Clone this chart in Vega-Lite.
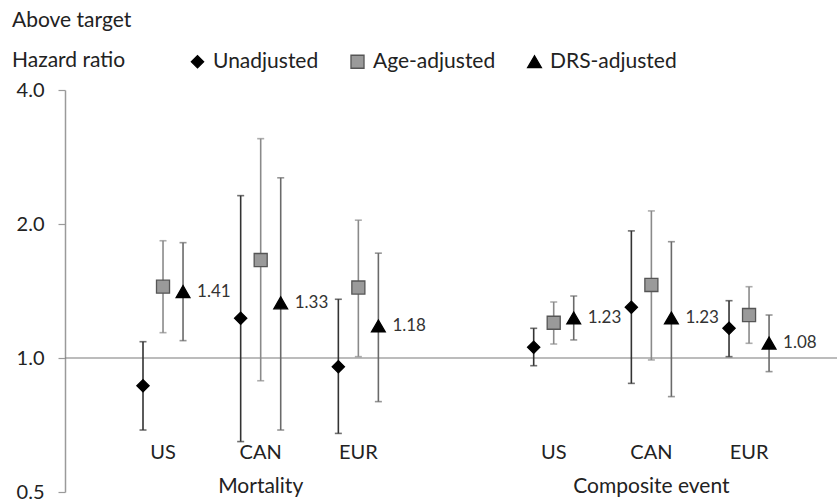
{
  "$schema": "https://vega.github.io/schema/vega-lite/v6.json",
  "width": 772,
  "height": 402,
  "autosize": "none",
  "padding": {"left": 65, "top": 90, "right": 0, "bottom": 9},
  "background": "white",
  "config": {
    "font": "Lato",
    "view": {"stroke": null}
  },
  "title": {
    "text": ["Above target", "Hazard ratio"],
    "anchor": "start",
    "frame": "group",
    "dx": -53,
    "dy": 24,
    "fontSize": 21,
    "fontWeight": "normal",
    "color": "#222",
    "lineHeight": 40,
    "font": "Lato"
  },
  "datasets": {
    "pts": [
      {"cat": "M-US", "series": "Unadjusted", "hr": 0.866, "lo": 0.689, "hi": 1.088, "label": ""},
      {"cat": "M-US", "series": "Age-adjusted", "hr": 1.446, "lo": 1.14, "hi": 1.834, "label": ""},
      {"cat": "M-US", "series": "DRS-adjusted", "hr": 1.41, "lo": 1.094, "hi": 1.816, "label": "1.41"},
      {"cat": "M-CAN", "series": "Unadjusted", "hr": 1.228, "lo": 0.649, "hi": 2.316, "label": ""},
      {"cat": "M-CAN", "series": "Age-adjusted", "hr": 1.66, "lo": 0.889, "hi": 3.11, "label": ""},
      {"cat": "M-CAN", "series": "DRS-adjusted", "hr": 1.33, "lo": 0.689, "hi": 2.54, "label": "1.33"},
      {"cat": "M-EUR", "series": "Unadjusted", "hr": 0.956, "lo": 0.677, "hi": 1.355, "label": ""},
      {"cat": "M-EUR", "series": "Age-adjusted", "hr": 1.44, "lo": 1.007, "hi": 2.04, "label": ""},
      {"cat": "M-EUR", "series": "DRS-adjusted", "hr": 1.18, "lo": 0.798, "hi": 1.72, "label": "1.18"},
      {"cat": "C-US", "series": "Unadjusted", "hr": 1.057, "lo": 0.961, "hi": 1.166, "label": ""},
      {"cat": "C-US", "series": "Age-adjusted", "hr": 1.2, "lo": 1.075, "hi": 1.336, "label": ""},
      {"cat": "C-US", "series": "DRS-adjusted", "hr": 1.23, "lo": 1.098, "hi": 1.378, "label": "1.23"},
      {"cat": "C-CAN", "series": "Unadjusted", "hr": 1.3, "lo": 0.877, "hi": 1.93, "label": ""},
      {"cat": "C-CAN", "series": "Age-adjusted", "hr": 1.459, "lo": 0.99, "hi": 2.14, "label": ""},
      {"cat": "C-CAN", "series": "DRS-adjusted", "hr": 1.23, "lo": 0.819, "hi": 1.825, "label": "1.23"},
      {"cat": "C-EUR", "series": "Unadjusted", "hr": 1.166, "lo": 1.007, "hi": 1.345, "label": ""},
      {"cat": "C-EUR", "series": "Age-adjusted", "hr": 1.249, "lo": 1.079, "hi": 1.446, "label": ""},
      {"cat": "C-EUR", "series": "DRS-adjusted", "hr": 1.08, "lo": 0.932, "hi": 1.249, "label": "1.08"}
    ],
    "cats": [
      {"cat": "M-US", "region": "US", "group": "", "ry": 0.612, "gy": 0.513},
      {"cat": "M-CAN", "region": "CAN", "group": "Mortality", "ry": 0.612, "gy": 0.513},
      {"cat": "M-EUR", "region": "EUR", "group": "", "ry": 0.612, "gy": 0.513},
      {"cat": "C-US", "region": "US", "group": "", "ry": 0.612, "gy": 0.513},
      {"cat": "C-CAN", "region": "CAN", "group": "Composite event", "ry": 0.612, "gy": 0.513},
      {"cat": "C-EUR", "region": "EUR", "group": "", "ry": 0.612, "gy": 0.513}
    ],
    "ref": [{"v": 1}]
  },
  "resolve": {"legend": {"color": "independent"}},
  "layer": [
    {
      "data": {"name": "ref"},
      "mark": {"type": "rule", "color": "#7a7a7a", "strokeWidth": 1.2},
      "encoding": {
        "y": {"field": "v", "type": "quantitative", "scale": {"type": "log", "base": 2, "domain": [0.5, 4]},
              "axis": {"values": [0.5, 1, 2, 4], "format": ".1f", "title": null, "grid": false, "domainColor": "#9a9a9a", "domainWidth": 1.5, "tickColor": "#9a9a9a", "tickSize": 7, "tickWidth": 1.2, "labelFontSize": 20, "labelColor": "#222", "labelPadding": 14, "labelFont": "Lato"}}
      }
    },
    {
      "data": {"name": "pts"},
      "mark": {"type": "rule", "strokeWidth": 1.6},
      "encoding": {
        "x": {"field": "cat", "type": "nominal", "sort": null,
              "scale": {"domain": ["M-US", "M-CAN", "M-EUR", "gap", "C-US", "C-CAN", "C-EUR"], "paddingInner": 0, "paddingOuter": 0.452, "align": 0.557},
              "axis": null},
        "xOffset": {"field": "series", "type": "nominal", "scale": {"domain": ["Unadjusted", "Age-adjusted", "DRS-adjusted"], "paddingInner": 0, "paddingOuter": 0.94}},
        "y": {"field": "lo", "type": "quantitative"},
        "y2": {"field": "hi"},
        "color": {"field": "series", "type": "nominal", "scale": {"domain": ["Unadjusted", "Age-adjusted", "DRS-adjusted"], "range": ["#333333", "#8a8a8a", "#6a6a6a"]}, "legend": null}
      }
    },
    {
      "data": {"name": "pts"},
      "mark": {"type": "tick", "thickness": 1.6, "size": 7, "orient": "horizontal"},
      "encoding": {
        "x": {"field": "cat", "type": "nominal"},
        "xOffset": {"field": "series", "type": "nominal"},
        "y": {"field": "lo", "type": "quantitative"},
        "color": {"field": "series", "type": "nominal", "legend": null}
      }
    },
    {
      "data": {"name": "pts"},
      "mark": {"type": "tick", "thickness": 1.6, "size": 7, "orient": "horizontal"},
      "encoding": {
        "x": {"field": "cat", "type": "nominal"},
        "xOffset": {"field": "series", "type": "nominal"},
        "y": {"field": "hi", "type": "quantitative"},
        "color": {"field": "series", "type": "nominal", "legend": null}
      }
    },
    {
      "data": {"name": "pts"},
      "mark": {"type": "point", "filled": true, "opacity": 1, "strokeWidth": 1.3},
      "encoding": {
        "x": {"field": "cat", "type": "nominal"},
        "xOffset": {"field": "series", "type": "nominal"},
        "y": {"field": "hr", "type": "quantitative"},
        "shape": {"field": "series", "type": "nominal",
                  "scale": {"domain": ["Unadjusted", "Age-adjusted", "DRS-adjusted"], "range": ["diamond", "square", "triangle-up"]},
                  "legend": {"orient": "none", "legendX": 122, "legendY": -39, "direction": "horizontal", "title": null,
                             "labelFontSize": 21, "labelColor": "#222", "labelFont": "Lato", "columnPadding": 28, "labelOffset": 5, "symbolStrokeWidth": 1.3}},
        "fill": {"field": "series", "type": "nominal",
                 "scale": {"domain": ["Unadjusted", "Age-adjusted", "DRS-adjusted"], "range": ["#000000", "#9a9a9a", "#000000"]}},
        "stroke": {"field": "series", "type": "nominal",
                   "scale": {"domain": ["Unadjusted", "Age-adjusted", "DRS-adjusted"], "range": ["#000000", "#555555", "#000000"]}},
        "size": {"field": "series", "type": "nominal",
                 "scale": {"domain": ["Unadjusted", "Age-adjusted", "DRS-adjusted"], "range": [150, 190, 170]}}
      }
    },
    {
      "data": {"name": "pts"},
      "mark": {"type": "text", "align": "left", "baseline": "middle", "dx": 14, "fontSize": 17, "color": "#333", "font": "Lato"},
      "encoding": {
        "x": {"field": "cat", "type": "nominal"},
        "xOffset": {"field": "series", "type": "nominal"},
        "y": {"field": "hr", "type": "quantitative"},
        "text": {"field": "label"}
      }
    },
    {
      "data": {"name": "cats"},
      "mark": {"type": "text", "align": "center", "baseline": "middle", "fontSize": 20, "color": "#222", "font": "Lato"},
      "encoding": {
        "x": {"field": "cat", "type": "nominal"},
        "y": {"field": "ry", "type": "quantitative"},
        "text": {"field": "region"}
      }
    },
    {
      "data": {"name": "cats"},
      "mark": {"type": "text", "align": "center", "baseline": "middle", "fontSize": 21, "color": "#222", "font": "Lato"},
      "encoding": {
        "x": {"field": "cat", "type": "nominal"},
        "y": {"field": "gy", "type": "quantitative"},
        "text": {"field": "group"}
      }
    }
  ]
}
